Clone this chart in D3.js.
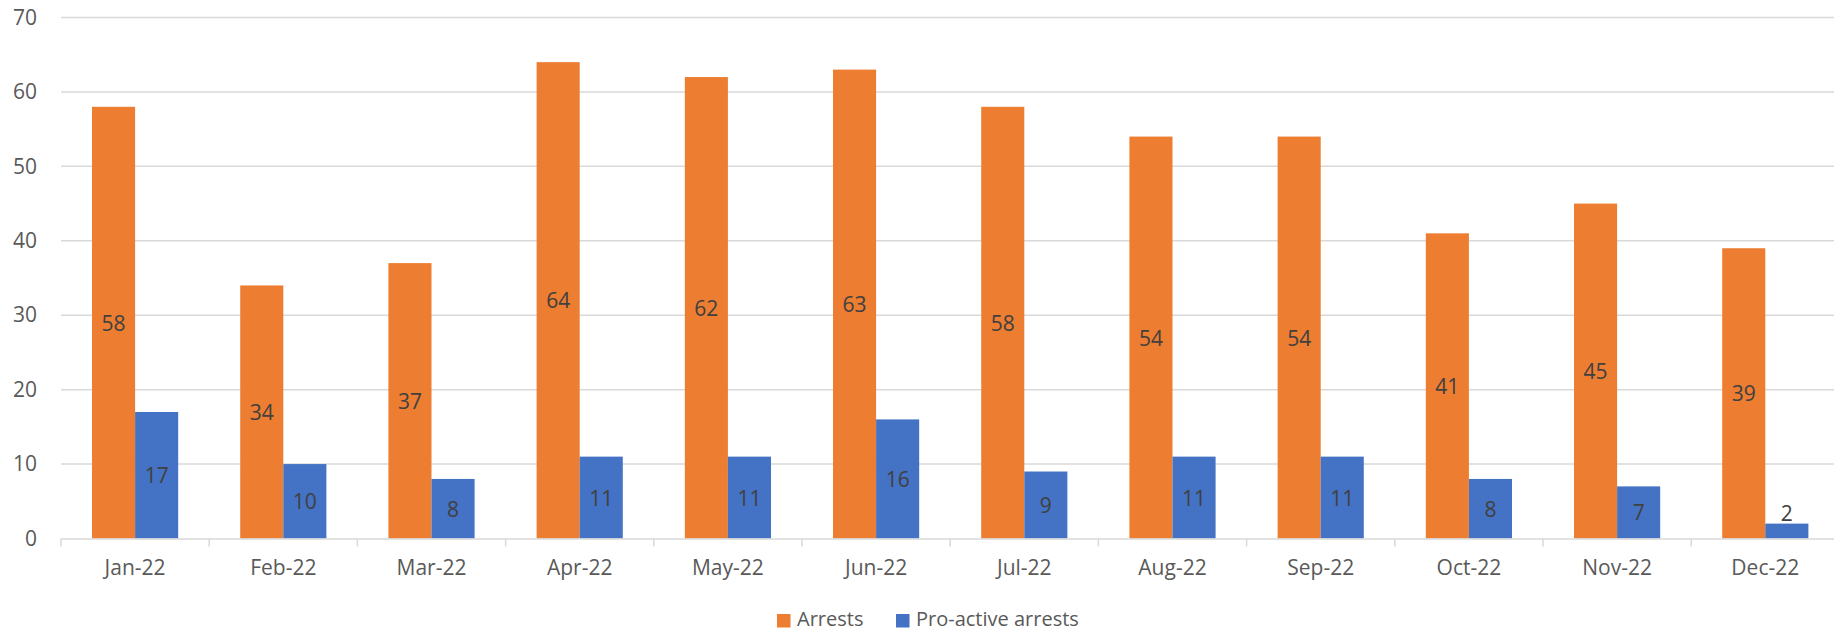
<!DOCTYPE html>
<html>
<head>
<meta charset="utf-8">
<script src="https://cdn.jsdelivr.net/npm/d3@7"></script>
<style>
  body { margin: 0; background: #fff; }
  text { font-family: "Open Sans", "Noto Sans", sans-serif; }
</style>
</head>
<body>
<div id="chart"></div>
<script>
const months = ['Jan-22', 'Feb-22', 'Mar-22', 'Apr-22', 'May-22', 'Jun-22',
                'Jul-22', 'Aug-22', 'Sep-22', 'Oct-22', 'Nov-22', 'Dec-22'];
const arrests = [58, 34, 37, 64, 62, 63, 58, 54, 54, 41, 45, 39];
const proactive = [17, 10, 8, 11, 11, 16, 9, 11, 11, 8, 7, 2];
const seriesNames = ['Arrests', 'Pro-active arrests'];
const yTicks = [0, 10, 20, 30, 40, 50, 60, 70];

const width = 1834, height = 633;
const colors = { 'Arrests': '#ED7D31', 'Pro-active arrests': '#4472C4' };

const svg = d3.select('#chart').append('svg')
  .attr('width', width)
  .attr('height', height);

// plot runs a bit past the right edge, like the original
const x = d3.scaleBand().domain(months).range([61, 1839.4]);
const xs = d3.scaleBand().domain(seriesNames).range([0, x.bandwidth()]).paddingOuter(0.72);
const y = d3.scaleLinear().domain([0, 70]).range([538.5, 17.5]);

// gridlines
svg.append('g')
  .selectAll('line')
  .data(yTicks.filter(d => d > 0))
  .enter().append('line')
  .attr('x1', 61).attr('x2', 1839.4)
  .attr('y1', d => y(d)).attr('y2', d => y(d))
  .attr('stroke', '#d9d9d9')
  .attr('stroke-width', 1.5);

// y labels
const yAxis = d3.axisLeft(y).tickValues(yTicks).tickSize(0).tickPadding(0);
svg.append('g')
  .attr('transform', 'translate(37,0)')
  .call(yAxis)
  .call(g => g.select('.domain').remove())
  .call(g => g.selectAll('text')
    .attr('fill', '#595959')
    .style('font-size', '21px'));

const rows = months.map((m, i) => ({ month: m, values: [arrests[i], proactive[i]] }));

const groups = svg.append('g').selectAll('g')
  .data(rows)
  .enter().append('g')
  .attr('transform', d => `translate(${x(d.month)},0)`);

groups.selectAll('rect')
  .data(d => d.values.map((v, k) => ({ key: seriesNames[k], value: v })))
  .enter().append('rect')
  .attr('x', d => xs(d.key))
  .attr('width', xs.bandwidth())
  .attr('y', d => y(d.value))
  .attr('height', d => y(0) - y(d.value))
  .attr('fill', d => colors[d.key]);

groups.selectAll('text.lbl')
  .data(d => d.values.map((v, k) => ({ key: seriesNames[k], value: v })))
  .enter().append('text')
  .attr('class', 'lbl')
  .attr('x', d => xs(d.key) + xs.bandwidth() / 2)
  .attr('y', d => {
    const h = y(0) - y(d.value);
    return h < 26 ? y(d.value) - 11 : (y(d.value) + y(0)) / 2;
  })
  .attr('text-anchor', 'middle')
  .attr('dominant-baseline', 'central')
  .attr('fill', '#404040')
  .style('font-size', '21px')
  .text(d => d.value);

// x axis
const xAxis = d3.axisBottom(x).tickSize(0).tickPadding(22);
const gx = svg.append('g')
  .attr('transform', `translate(0,${y(0)})`)
  .call(xAxis);
gx.select('.domain').attr('stroke', '#d9d9d9').attr('stroke-width', 1.5);
gx.selectAll('text').attr('fill', '#595959').style('font-size', '21px');

// category separators below the axis
svg.append('g').selectAll('line')
  .data(months)
  .enter().append('line')
  .attr('x1', d => x(d)).attr('x2', d => x(d))
  .attr('y1', y(0)).attr('y2', y(0) + 8)
  .attr('stroke', '#d9d9d9')
  .attr('stroke-width', 1.5);

// legend
const legend = svg.append('g').attr('id', 'legend');
const legendX = [777, 896];
seriesNames.forEach((name, i) => {
  legend.append('rect')
    .attr('x', legendX[i]).attr('y', 614)
    .attr('width', 13.5).attr('height', 13.5)
    .attr('fill', colors[name]);
  legend.append('text')
    .attr('x', legendX[i] + 20).attr('y', 626)
    .attr('fill', '#595959')
    .style('font-size', '20px')
    .text(name);
});
</script>
</body>
</html>
